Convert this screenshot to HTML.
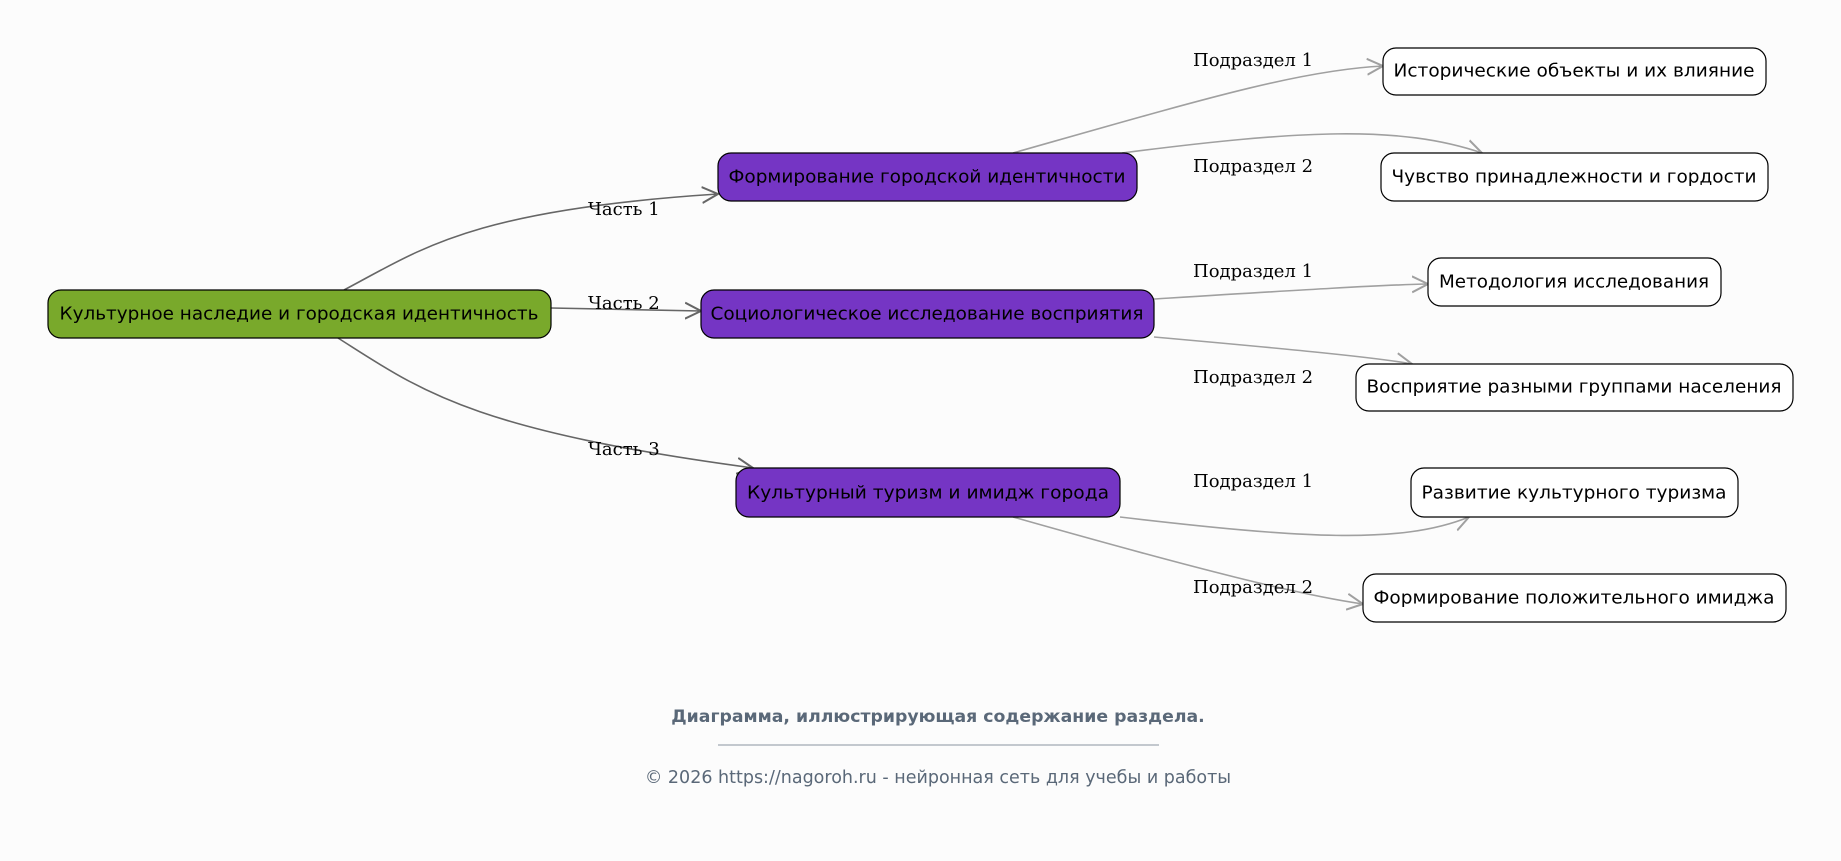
<!DOCTYPE html>
<html><head><meta charset="utf-8"><style>
html,body{margin:0;padding:0;background:#fcfcfc;}
svg{display:block}
.n{font-family:"DejaVu Sans","Liberation Sans",sans-serif;font-size:18px;fill:#000;text-anchor:middle;dominant-baseline:central}
.e{font-family:"DejaVu Serif","Liberation Serif",serif;font-size:18px;fill:#000}
</style></head><body>
<svg width="1841" height="861" viewBox="0 0 1841 861" xmlns="http://www.w3.org/2000/svg">
<defs>
<marker id="a1" markerWidth="18" markerHeight="18" refX="16" refY="9" orient="auto" markerUnits="userSpaceOnUse"><polyline points="0,1 16,9 0,17" fill="none" stroke="#666" stroke-width="2"/></marker>
<marker id="a2" markerWidth="18" markerHeight="18" refX="16" refY="9" orient="auto" markerUnits="userSpaceOnUse"><polyline points="0,1 16,9 0,17" fill="none" stroke="#a0a0a0" stroke-width="2"/></marker>
</defs>
<g fill="none" stroke="#666" stroke-width="1.6">
<path d="M344,290 C420,250 470,210 718,194" marker-end="url(#a1)"/>
<path d="M551,308 L701,311" marker-end="url(#a1)"/>
<path d="M338,338 C420,390 470,430 753,468" marker-end="url(#a1)"/>
</g>
<g fill="none" stroke="#a0a0a0" stroke-width="1.6">
<path d="M1013,153 C1200,100 1300,70 1383,66" marker-end="url(#a2)"/>
<path d="M1122,153 C1300,130 1400,125 1482,153" marker-end="url(#a2)"/>
<path d="M1154,299 C1300,290 1380,285 1428,284" marker-end="url(#a2)"/>
<path d="M1154,337 C1300,350 1380,358 1412,364" marker-end="url(#a2)"/>
<path d="M1120,517 C1300,538 1400,545 1469,517" marker-end="url(#a2)"/>
<path d="M1013,517 C1200,570 1300,595 1363,604" marker-end="url(#a2)"/>
</g>
<g stroke="#000" stroke-width="1.2">
<rect x="48" y="290" width="503" height="48" rx="13" fill="#79a92b"/>
<rect x="718" y="153" width="419" height="48" rx="13" fill="#7535c4"/>
<rect x="701" y="290" width="453" height="48" rx="13" fill="#7535c4"/>
<rect x="736" y="468" width="384" height="49" rx="13" fill="#7535c4"/>
<rect x="1383" y="48" width="383" height="47" rx="13" fill="#fff"/>
<rect x="1381" y="153" width="387" height="48" rx="13" fill="#fff"/>
<rect x="1428" y="258" width="293" height="48" rx="13" fill="#fff"/>
<rect x="1356" y="364" width="437" height="47" rx="13" fill="#fff"/>
<rect x="1411" y="468" width="327" height="49" rx="13" fill="#fff"/>
<rect x="1363" y="574" width="423" height="48" rx="13" fill="#fff"/>
</g>
<text class="n" x="299" y="314" textLength="479" lengthAdjust="spacingAndGlyphs">Культурное наследие и городская идентичность</text>
<text class="n" x="927" y="177" textLength="397" lengthAdjust="spacingAndGlyphs">Формирование городской идентичности</text>
<text class="n" x="927" y="314" textLength="433" lengthAdjust="spacingAndGlyphs">Социологическое исследование восприятия</text>
<text class="n" x="928" y="493" textLength="362" lengthAdjust="spacingAndGlyphs">Культурный туризм и имидж города</text>
<text class="n" x="1574" y="71" textLength="361" lengthAdjust="spacingAndGlyphs">Исторические объекты и их влияние</text>
<text class="n" x="1574" y="177" textLength="365" lengthAdjust="spacingAndGlyphs">Чувство принадлежности и гордости</text>
<text class="n" x="1574" y="282" textLength="270" lengthAdjust="spacingAndGlyphs">Методология исследования</text>
<text class="n" x="1574" y="387" textLength="415" lengthAdjust="spacingAndGlyphs">Восприятие разными группами населения</text>
<text class="n" x="1574" y="493" textLength="305" lengthAdjust="spacingAndGlyphs">Развитие культурного туризма</text>
<text class="n" x="1574" y="598" textLength="401" lengthAdjust="spacingAndGlyphs">Формирование положительного имиджа</text>
<text class="e" x="588" y="215">Часть 1</text>
<text class="e" x="588" y="309">Часть 2</text>
<text class="e" x="588" y="455">Часть 3</text>
<text class="e" x="1193" y="66">Подраздел 1</text>
<text class="e" x="1193" y="172">Подраздел 2</text>
<text class="e" x="1193" y="277">Подраздел 1</text>
<text class="e" x="1193" y="383">Подраздел 2</text>
<text class="e" x="1193" y="487">Подраздел 1</text>
<text class="e" x="1193" y="593">Подраздел 2</text>
<text x="938" y="722" text-anchor="middle" font-family="DejaVu Sans,Liberation Sans,sans-serif" font-size="17.3" font-weight="bold" fill="#5a6878">Диаграмма, иллюстрирующая содержание раздела.</text>
<line x1="718" y1="745" x2="1159" y2="745" stroke="#8a94a0" stroke-width="1"/>
<text x="938" y="783" text-anchor="middle" font-family="DejaVu Sans,Liberation Sans,sans-serif" font-size="17.5" fill="#5a6878">© 2026 https://nagoroh.ru - нейронная сеть для учебы и работы</text>
</svg>
</body></html>
